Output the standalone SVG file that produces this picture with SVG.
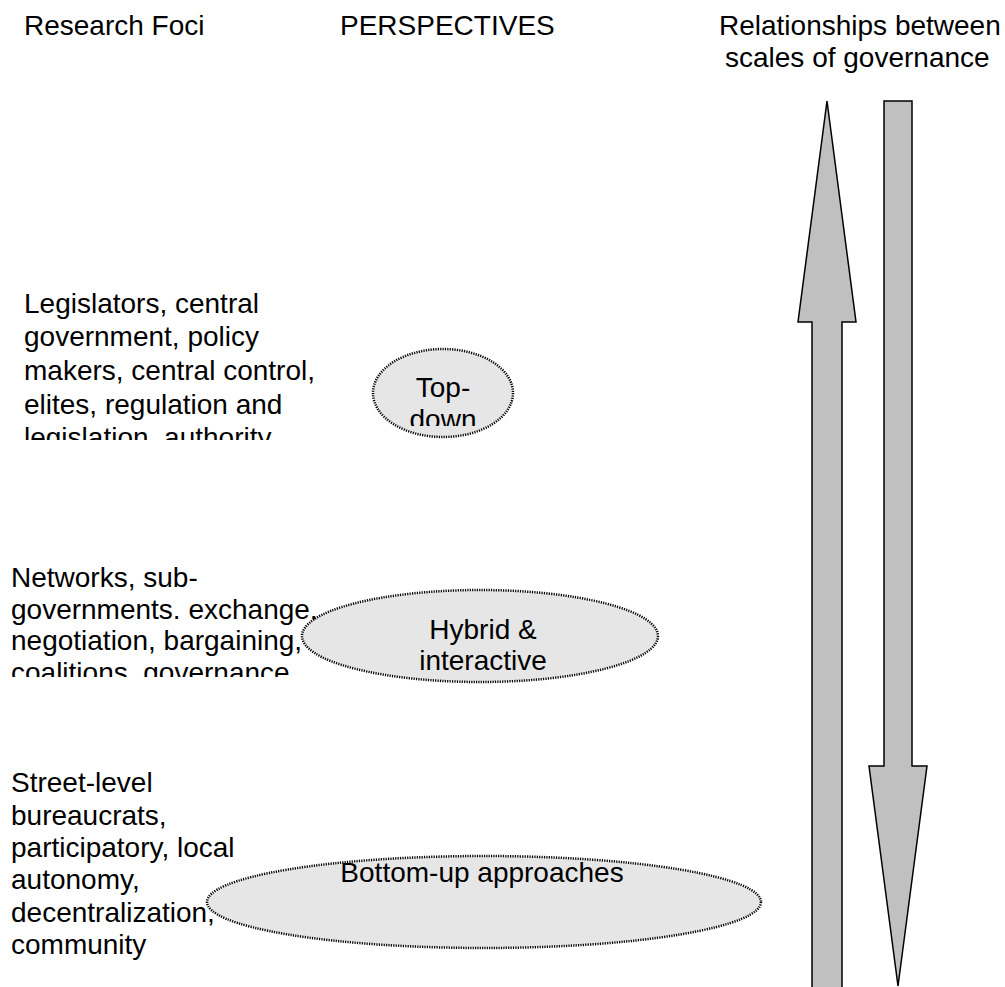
<svg xmlns="http://www.w3.org/2000/svg" width="1005" height="987" viewBox="0 0 1005 987">
<style>
text{font-family:"Liberation Sans",Arial,sans-serif;font-size:28px;fill:#000}
.mid{text-anchor:middle}
.ell{fill:#e6e6e6;stroke:#000;stroke-width:2.5;stroke-dasharray:1.2 1.2}
.arr{fill:#c0c0c0;stroke:#000;stroke-width:1.5;stroke-linejoin:miter}
</style>
<defs>
<clipPath id="c1"><rect x="0" y="280" width="360" height="160"/></clipPath>
<clipPath id="c2"><rect x="0" y="560" width="320" height="117"/></clipPath>
<clipPath id="c3"><rect x="373" y="350" width="140" height="76"/></clipPath>
<clipPath id="c4"><rect x="302" y="590" width="356" height="82"/></clipPath>
</defs>
<rect width="1005" height="987" fill="#fff"/>
<g id="headers">
<text x="24" y="35">Research Foci</text>
<text x="340" y="35">PERSPECTIVES</text>
<text x="719" y="35">Relationships between</text>
<text x="725" y="67">scales of governance</text>
</g>
<g id="connectors">
<polygon class="arr" points="827,101 856,322 842,322 842,990 812,990 812,322 798,322"/>
<polygon class="arr" points="884,101 912,101 912,766 927,766 898,986 869,766 884,766"/>
</g>
<g id="foci-top" clip-path="url(#c1)">
<text x="24" y="313">Legislators, central</text>
<text x="24" y="346">government, policy</text>
<text x="24" y="380">makers, central control,</text>
<text x="24" y="414">elites, regulation and</text>
<text x="24" y="447">legislation, authority</text>
</g>
<g id="foci-mid" clip-path="url(#c2)">
<text x="11" y="587">Networks, sub-</text>
<text x="11" y="619">governments. exchange,</text>
<text x="11" y="650">negotiation, bargaining,</text>
<text x="11" y="682">coalitions, governance</text>
</g>
<g id="foci-bottom">
<text x="11" y="792">Street-level</text>
<text x="11" y="825">bureaucrats,</text>
<text x="11" y="857">participatory, local</text>
<text x="11" y="889">autonomy,</text>
<text x="11" y="922">decentralization,</text>
<text x="11" y="954">community</text>
</g>
<g id="top-down">
<ellipse class="ell" cx="443" cy="393" rx="70" ry="44"/>
<g clip-path="url(#c3)">
<text class="mid" x="443" y="397">Top-</text>
<text class="mid" x="443" y="429">down</text>
</g>
</g>
<g id="hybrid">
<ellipse class="ell" cx="480" cy="636" rx="178" ry="46"/>
<g clip-path="url(#c4)">
<text class="mid" x="483" y="639">Hybrid &amp;</text>
<text class="mid" x="483" y="670">interactive</text>
</g>
</g>
<g id="bottom-up">
<ellipse class="ell" cx="484" cy="902" rx="277" ry="46"/>
<text class="mid" x="482" y="882">Bottom-up approaches</text>
</g>
</svg>
